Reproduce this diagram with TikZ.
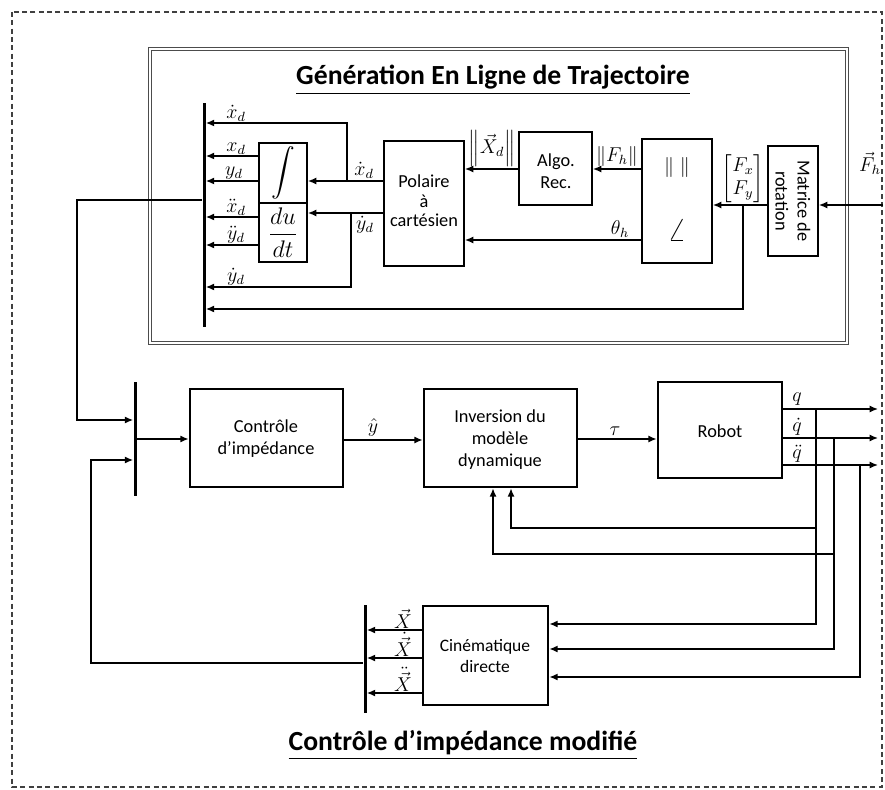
\documentclass[tikz,border=0pt]{standalone}
\usepackage{fontspec}
\setmainfont{Carlito}
\usepackage{amsmath}
\usetikzlibrary{arrows.meta,fit}
\begin{document}
\begin{tikzpicture}[x=0.6pt,y=-0.6pt,
  font=\fontsize{11}{13.2}\selectfont,
  blk/.style={draw, line width=1.1pt, inner sep=0pt},
  bblk/.style={draw, line width=1.6pt, inner sep=0pt},
  txt/.style={inner sep=0pt, align=center},
  bar/.style={fill=black, inner xsep=0.9pt, inner ysep=0pt},
  arr/.style={line width=0.85pt, -{Latex[length=5pt,width=4.2pt]}},
  lbl/.style={inner sep=0pt, font=\large},
  lbs/.style={lbl, anchor=south},
  ttl/.style={font=\fontsize{16.6}{19}\selectfont\bfseries}]
\useasboundingbox (0,0) rectangle (885,790);
% outer dashed frame
\draw[gray!50!black, line width=0.9pt, dash pattern=on 3pt off 2pt] (12,12) rectangle (882,787);
% inner double frame
\node[draw=gray!60!black, double, double distance=0.9pt, line width=0.6pt, inner sep=0pt, fit={(150,49) (847,343)}] (gen) {};
\node[ttl] (gentitle) at (493,80) {\underline{Génération En Ligne de Trajectoire}};

% ---------- top blocks
\node[bar, fit={(204,103) (204,327)}] (busA) {};
\node[blk, fit={(259,143) (307,203)}] (int) {};
\node[txt] (inttxt) at (int.center) {\scalebox{1.3}{$\displaystyle\int$}};
\node[blk, fit={(259,203) (307,262)}] (ddt) {};
\node[txt] (ddttxt) at (ddt.center) {\Large$\dfrac{du}{dt}$};
\node[blk, fit={(384,141) (464,266)}] (pol) {};
\node[txt, font=\fontsize{11}{11.6}\selectfont] (poltxt) at (424,201) {Polaire\\à\\cartésien};
\node[blk, fit={(519,132) (592,205)}] (algo) {};
\node[txt] (algotxt) at (556,171) {Algo.\\Rec.};
\node[blk, fit={(642,139) (712,263)}] (na) {};
\node[txt, font=\large] (nrm) at (677,168) {$\|\;\|$};
\node[txt] (ang) at (677,230) {\scalebox{1.7}{$\angle$}};
\node[blk, fit={(768,146) (818,256)}] (mat) {};
\node[txt, rotate=-90] (mattxt) at (mat.center) {Matrice de\\rotation};

% inputs
\coordinate (fin) at (883,205);
\draw[arr] (fin) -- (mat.east |- fin);
\node[lbl] (lfh) at (870,163) {$\vec{F}_h$};
\coordinate (fxy) at (743,205);
\draw[arr] (mat.west |- fin) -- (na.east |- fin);
\node[lbs] (lfxy) at (743,203) {$\begin{bmatrix}F_x\\F_y\end{bmatrix}$};
\draw[arr] (fxy) -- (743,309) -- (busA.east |- 0,309);

\draw[arr] (na.west |- 0,169) -- (algo.east |- 0,169);
\node[lbs] (lfhn) at (617,167) {$\|F_h\|$};
\draw[arr] (na.west |- 0,240) -- (pol.east |- 0,240);
\node[lbs] (lth) at (620,238) {$\theta_h$};
\draw[arr] (algo.west |- 0,169) -- (pol.east |- 0,169);
\node[lbs] (lxdn) at (492,167) {$\left\|\vec{X}_d\right\|$};

\draw[arr] (pol.west |- 0,181) -- (int.east |- 0,181);
\draw[arr] (pol.west |- 0,213) -- (ddt.east |- 0,213);
\node[lbs] (lxd1) at (364,179) {$\dot{x}_d$};
\node[lbl, anchor=north] (lyd1) at (365,216) {$\dot{y}_d$};
\draw[arr] (347,181) -- (347,123) -- (busA.east |- 0,123);
\draw[arr] (351,213) -- (351,287) -- (busA.east |- 0,287);

\draw[arr] (int.west |- 0,156) -- (busA.east |- 0,156);
\draw[arr] (int.west |- 0,181) -- (busA.east |- 0,181);
\draw[arr] (ddt.west |- 0,217) -- (busA.east |- 0,217);
\draw[arr] (ddt.west |- 0,245) -- (busA.east |- 0,245);
\node[lbs] (l1) at (236,122) {$\dot{x}_d$};
\node[lbs] (l2) at (236,155) {$x_d$};
\node[lbs] (l3) at (234,180) {$y_d$};
\node[lbs] (l4) at (236,216) {$\ddot{x}_d$};
\node[lbs] (l5) at (236,244) {$\ddot{y}_d$};
\node[lbs] (l6) at (236,286) {$\dot{y}_d$};

% ---------- bottom blocks
\node[bar, fit={(135,382) (135,496)}] (busB) {};
\node[bblk, fit={(190,389) (343,487)}] (ctrl) {};
\node[txt] (ctrltxt) at (266,439) {Contrôle\\d’impédance};
\node[bblk, fit={(424,389) (577,487)}] (inv) {};
\node[txt] (invtxt) at (500,440) {Inversion du\\modèle\\dynamique};
\node[bblk, fit={(658,382) (782,478)}] (rob) {};
\node[txt] (robtxt) at (720,431) {Robot};
\node[bar, fit={(365,605) (365,713)}] (busC) {};
\node[bblk, fit={(423,606) (548,705)}] (cin) {};
\node[txt, font=\fontsize{10.5}{12.6}\selectfont] (cintxt) at (485,656) {Cinématique\\directe};

\draw[arr] (busA.west |- 0,200) -- (77,200) -- (77,420) -- (busB.west |- 0,420);
\draw[arr] (busC.west |- 0,663) -- (91,663) -- (91,460) -- (busB.west |- 0,460);
\draw[arr] (busB.east |- 0,439) -- (ctrl.west |- 0,439);
\draw[arr] (ctrl.east |- 0,440) -- (inv.west |- 0,440);
\node[lbs] (lyh) at (373,437) {$\hat{y}$};
\draw[arr] (inv.east |- 0,439) -- (rob.west |- 0,439);
\node[lbs] (ltau) at (615,436) {$\tau$};

\coordinate (qo) at (878,409);
\coordinate (qdo) at (878,438);
\coordinate (qddo) at (878,465);
\draw[arr] (rob.east |- qo) -- (qo);
\draw[arr] (rob.east |- qdo) -- (qdo);
\draw[arr] (rob.east |- qddo) -- (qddo);
\node[lbs] (lq) at (797,406) {$q$};
\node[lbs] (lqd) at (797,436) {$\dot{q}$};
\node[lbs] (lqdd) at (797,463) {$\ddot{q}$};

\draw[arr] (816,409) -- (816,624) -- (cin.east |- 0,624);
\draw[arr] (834,438) -- (834,649) -- (cin.east |- 0,649);
\draw[arr] (860,465) -- (860,677) -- (cin.east |- 0,677);
\draw[arr] (816,528) -- (511,528) -- (inv.south -| 511,0);
\draw[arr] (834,554) -- (493,554) -- (inv.south -| 493,0);

\draw[arr] (cin.west |- 0,630) -- (busC.east |- 0,630);
\draw[arr] (cin.west |- 0,658) -- (busC.east |- 0,658);
\draw[arr] (cin.west |- 0,693) -- (busC.east |- 0,693);
\node[lbs] (lX) at (403,629) {$\vec{X}$};
\node[lbs] (lXd) at (403,657) {$\dot{\vec{X}}$};
\node[lbs] (lXdd) at (403,692) {$\ddot{\vec{X}}$};

\node[ttl] (bottitle) at (463,745) {\underline{Contrôle d’impédance modifié}};
\end{tikzpicture}
\end{document}
